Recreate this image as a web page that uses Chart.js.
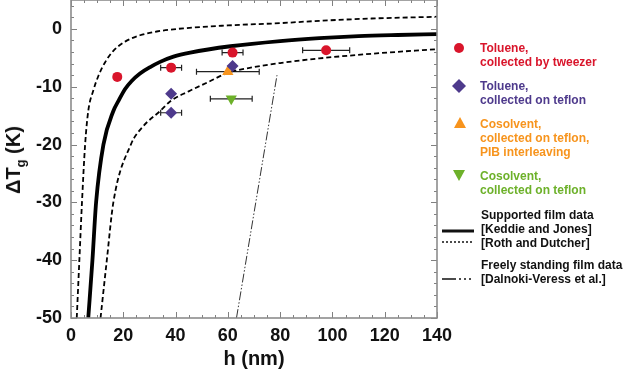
<!DOCTYPE html>
<html>
<head>
<meta charset="utf-8">
<title>Tg shift vs film thickness</title>
<script src="https://cdn.jsdelivr.net/npm/chart.js@4.4.1/dist/chart.umd.min.js"></script>
<style>
  body { margin: 0; background: #fff; font-family: "Liberation Sans", Arial, sans-serif; }
  #wrap { position: relative; width: 623px; height: 371px; }
  #ytitle {
    position: absolute; left: 15px; top: 160px;
    transform: translate(-50%, -50%) rotate(-90deg);
    font-weight: bold; font-size: 20px; line-height: 1; white-space: nowrap; color: #111;
  }
  #ytitle sub { font-size: 13px; }
  .leg { position: absolute; font-weight: bold; font-size: 12px; line-height: 14px; white-space: nowrap; }
</style>
</head>
<body>
<div id="wrap">
  <canvas id="myChart"></canvas>
  <div id="ytitle">ΔT<sub>g</sub> (K)</div>

  <!-- legend, drawn as html next to the plot -->
  <div class="leg" style="left:480px; top:41px; color:#d9152b;">Toluene,<br>collected by tweezer</div>
  <div class="leg" style="left:480px; top:79px; color:#4e3a8c;">Toluene,<br>collected on teflon</div>
  <div class="leg" style="left:480px; top:117px; color:#f7941d;">Cosolvent,<br>collected on teflon,<br>PIB interleaving</div>
  <div class="leg" style="left:480px; top:169px; color:#6db12a;">Cosolvent,<br>collected on teflon</div>
  <div class="leg" style="left:481px; top:208px; color:#111;">Supported film data<br>[Keddie and Jones]<br>[Roth and Dutcher]</div>
  <div class="leg" style="left:481px; top:258px; color:#111;">Freely standing film data<br>[Dalnoki-Veress et al.]</div>
  <svg style="position:absolute; left:440px; top:36px;" width="40" height="260">
    <circle cx="19" cy="12" r="5" fill="#d9152b"/>
    <polygon points="19,43 26,50 19,57 12,50" fill="#4e3a8c"/>
    <polygon points="20,81 26,92 14,92" fill="#f7941d"/>
    <polygon points="13,134 25,134 19,145" fill="#6db12a"/>
    <line x1="2" y1="195" x2="34" y2="195" stroke="#111" stroke-width="3"/>
    <line x1="2" y1="206" x2="34" y2="206" stroke="#111" stroke-width="1.5" stroke-dasharray="2,2"/>
    <line x1="2" y1="243" x2="34" y2="243" stroke="#111" stroke-width="1.5" stroke-dasharray="14,3,2,3,2,3,2,3"/>
  </svg>
</div>

<script>
  // measured points (h in nm, dTg in K)
  const tweezerH   = [17.7, 38.3, 61.8, 97.6];
  const tweezerDT  = [-8.3, -6.7, -4.1, -3.7];
  const tweezerErr = [1, 4, 4, 9];

  const teflonH   = [38.3, 38.3, 61.8];
  const teflonDT  = [-11.2, -14.5, -6.4];
  const teflonErr = [0, 4, 0];

  const pibH   = [60.0];
  const pibDT  = [-7.4];
  const pibErr = [12];

  const cosolH   = [61.3];
  const cosolDT  = [-12.1];
  const cosolErr = [8];

  // literature curves
  const keddieH  = [6.6, 8.2, 9.6, 12.4, 16.2, 18.1, 20.7, 23.2, 26.4, 30.3, 34.1, 39.2, 45.6, 61, 80, 95, 110, 125, 140];
  const keddieDT = [-50, -40, -30, -20, -14.2, -12.5, -10.4, -9.0, -7.7, -6.6, -5.7, -4.8, -4.1, -3, -2.1, -1.6, -1.25, -1.05, -0.9];

  const rothUpH  = [2.2, 3.2, 4.2, 5.4, 6.6, 8.5, 10.5, 13, 16.2, 20.7, 26.4, 32.8, 43, 60, 80, 95, 115, 140];
  const rothUpDT = [-50, -40, -30, -20, -14.2, -10.7, -8.1, -5.8, -3.8, -2.2, -1.1, -0.45, 0.1, 0.6, 1.0, 1.4, 1.8, 2.1];

  const rothLoH  = [11.3, 13.7, 16.2, 22.9, 27.7, 34.1, 38, 45, 52, 60, 70, 80, 95, 115, 140];
  const rothLoDT = [-50, -40, -30, -20, -16.8, -14.2, -12.5, -10.8, -9.3, -7.6, -6.6, -5.9, -5.1, -4.3, -3.5];

  const dalnokiH  = [63.3, 78.8];
  const dalnokiDT = [-50, -8];

  const xTicks = [0, 20, 40, 60, 80, 100, 120, 140];
  const yTicks = [-50, -40, -30, -20, -10, 0];

  const pts = (xs, ys) => xs.map((x, i) => ({ x: x, y: ys[i] }));

  const curve = (label, xs, ys, width, dash, color) => ({
    type: "line", label, data: pts(xs, ys),
    borderColor: color, borderWidth: width, borderDash: dash,
    pointRadius: 0, fill: false, cubicInterpolationMode: "monotone", order: 2
  });

  const marks = (label, xs, ys, errs, color, style, radius, rot) => ({
    type: "scatter", label, data: pts(xs, ys), errs,
    backgroundColor: color, borderColor: color, borderWidth: 0,
    pointStyle: style, pointRadius: radius, pointRotation: rot || 0, order: 1
  });

  // horizontal error bars + inside ticks + box frame
  const decor = {
    id: "decor",
    beforeDatasetsDraw(chart) {
      const { ctx } = chart;
      const xs = chart.scales.x, ys = chart.scales.y;
      ctx.save();
      ctx.strokeStyle = "#222";
      ctx.lineWidth = 1.2;
      chart.data.datasets.forEach(ds => {
        if (!ds.errs) return;
        ds.data.forEach((p, i) => {
          const e = ds.errs[i];
          if (!e) return;
          const x0 = xs.getPixelForValue(p.x - e), x1 = xs.getPixelForValue(p.x + e);
          const y = ys.getPixelForValue(p.y);
          ctx.beginPath();
          ctx.moveTo(x0, y); ctx.lineTo(x1, y);
          ctx.moveTo(x0, y - 3); ctx.lineTo(x0, y + 3);
          ctx.moveTo(x1, y - 3); ctx.lineTo(x1, y + 3);
          ctx.stroke();
        });
      });
      ctx.restore();
    },
    afterDraw(chart) {
      const { ctx, chartArea: a } = chart;
      const xs = chart.scales.x, ys = chart.scales.y;
      ctx.save();
      ctx.strokeStyle = "#808080";
      ctx.lineWidth = 1;
      ctx.beginPath();
      for (let v = 0; v <= 140; v += 5) {
        const len = v % 20 === 0 ? 6 : 3;
        const px = Math.round(xs.getPixelForValue(v)) + 0.5;
        ctx.moveTo(px, a.bottom); ctx.lineTo(px, a.bottom - len);
        ctx.moveTo(px, a.top); ctx.lineTo(px, a.top + len);
      }
      for (let v = -50; v <= 4; v += 2) {
        const len = v % 10 === 0 ? 6 : 3;
        const py = Math.round(ys.getPixelForValue(v)) + 0.5;
        ctx.moveTo(a.left, py); ctx.lineTo(a.left + len, py);
        ctx.moveTo(a.right, py); ctx.lineTo(a.right - len, py);
      }
      ctx.stroke();
      ctx.lineWidth = 1.6;
      ctx.strokeStyle = "#8c8c8c";
      ctx.strokeRect(a.left, a.top, a.right - a.left, a.bottom - a.top);
      ctx.restore();
    }
  };

  const config = {
    type: "scatter",
    data: {
      datasets: [
        curve("[Keddie and Jones]", keddieH, keddieDT, 3.8, [], "#000"),
        curve("[Roth and Dutcher] upper", rothUpH, rothUpDT, 1.8, [5, 3], "#000"),
        curve("[Roth and Dutcher] lower", rothLoH, rothLoDT, 1.8, [5, 3], "#000"),
        curve("[Dalnoki-Veress et al.]", dalnokiH, dalnokiDT, 1, [9, 2, 1.5, 2, 1.5, 2], "#333"),
        marks("Toluene, collected by tweezer", tweezerH, tweezerDT, tweezerErr, "#d9152b", "circle", 5),
        marks("Toluene, collected on teflon", teflonH, teflonDT, teflonErr, "#4e3a8c", "rectRot", 6),
        marks("Cosolvent, PIB interleaving", pibH, pibDT, pibErr, "#f7941d", "triangle", 6.5),
        marks("Cosolvent, collected on teflon", cosolH, cosolDT, cosolErr, "#6db12a", "triangle", 6.5, 180)
      ]
    },
    options: {
      responsive: true,
      maintainAspectRatio: false,
      animation: false,
      layout: { autoPadding: false, padding: { left: 0, right: 186, top: 0, bottom: 0 } },
      plugins: { legend: { display: false }, tooltip: { enabled: false } },
      scales: {
        x: {
          type: "linear", min: 0, max: 140,
          afterBuildTicks: s => { s.ticks = xTicks.map(v => ({ value: v })); },
          afterFit: s => { s.height = 53; s.paddingLeft = 0; s.paddingRight = 0; },
          grid: { display: false, drawTicks: false },
          border: { display: false },
          ticks: { padding: 7, color: "#111", font: { family: "Liberation Sans", size: 18, weight: "bold" }, maxRotation: 0 },
          title: { display: true, text: "h (nm)", color: "#111", padding: { top: 0, bottom: 0 },
                   font: { family: "Liberation Sans", size: 20, weight: "bold" } }
        },
        y: {
          type: "linear", min: -50, max: 5,
          afterBuildTicks: s => { s.ticks = yTicks.map(v => ({ value: v })); },
          afterFit: s => { s.width = 71; s.paddingTop = 0; s.paddingBottom = 0; },
          grid: { display: false, drawTicks: false },
          border: { display: false },
          ticks: { padding: 9, color: "#111", font: { family: "Liberation Sans", size: 18, weight: "bold" } }
        }
      }
    },
    plugins: [decor]
  };

  const ctx = document.getElementById("myChart");
  let myChart = new Chart(ctx, config);
</script>
</body>
</html>
